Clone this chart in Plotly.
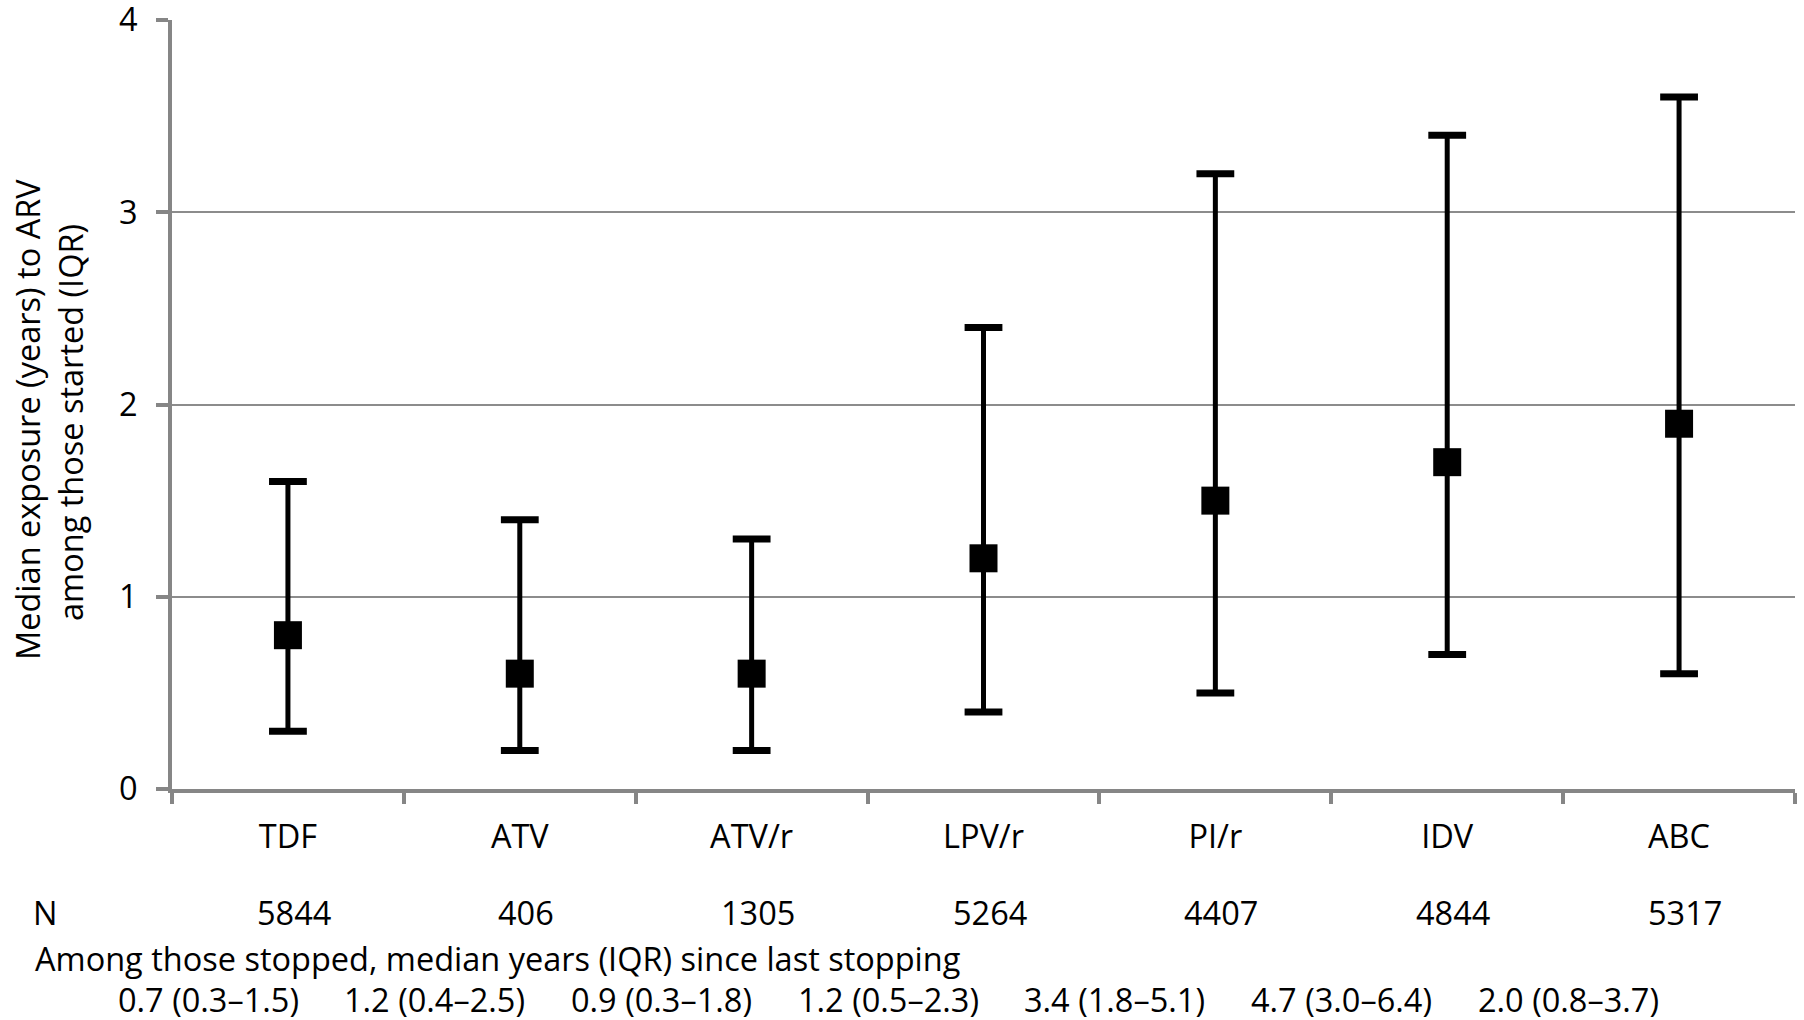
import plotly.graph_objects as go

# ---- data ----
drugs = ["TDF", "ATV", "ATV/r", "LPV/r", "PI/r", "IDV", "ABC"]
median_years = [0.8, 0.6, 0.6, 1.2, 1.5, 1.7, 1.9]
q1_years = [0.3, 0.2, 0.2, 0.4, 0.5, 0.7, 0.6]
q3_years = [1.6, 1.4, 1.3, 2.4, 3.2, 3.4, 3.6]
n_counts = ["5844", "406", "1305", "5264", "4407", "4844", "5317"]
stopped_text = ["0.7 (0.3\u20131.5)", "1.2 (0.4\u20132.5)", "0.9 (0.3\u20131.8)",
                "1.2 (0.5\u20132.3)", "3.4 (1.8\u20135.1)", "4.7 (3.0\u20136.4)",
                "2.0 (0.8\u20133.7)"]
y_ticks = [0, 1, 2, 3, 4]

W, H = 1804, 1020
L, R, T, B = 172, 9, 20, 231
PW, PH = W - L - R, H - T - B

def px_x(x):
    return (x - L) / PW

def px_y(y):
    return (H - B - y) / PH

FONT = "Open Sans"
FS = 32.5

err_plus = [q3 - m for q3, m in zip(q3_years, median_years)]
err_minus = [m - q1 for m, q1 in zip(median_years, q1_years)]

fig = go.Figure()
# whiskers (no caps) + median squares
fig.add_trace(go.Scatter(
    x=drugs, y=median_years, mode="markers",
    marker=dict(symbol="square", size=28, color="black"),
    error_y=dict(type="data", symmetric=False, array=err_plus, arrayminus=err_minus,
                 color="black", thickness=5, width=0),
    showlegend=False, hoverinfo="skip", cliponaxis=False,
))
# caps at Q1 and Q3
fig.add_trace(go.Scatter(
    x=drugs + drugs, y=q1_years + q3_years, mode="markers",
    marker=dict(symbol="line-ew", size=27, color="black",
                line=dict(color="black", width=7)),
    showlegend=False, hoverinfo="skip", cliponaxis=False,
))

annotations = []
# y-axis title (two lines)
annotations.append(dict(text="Median exposure (years) to ARV", xref="paper", yref="paper",
                        x=px_x(27), y=px_y(420), textangle=-90, showarrow=False,
                        xanchor="center", yanchor="middle", font=dict(size=FS)))
annotations.append(dict(text="among those started (IQR)", xref="paper", yref="paper",
                        x=px_x(70), y=px_y(423), textangle=-90, showarrow=False,
                        xanchor="center", yanchor="middle", font=dict(size=FS)))
# N row
annotations.append(dict(text="N", xref="paper", yref="paper", x=px_x(31), y=px_y(912),
                        showarrow=False, xanchor="left", yanchor="middle", font=dict(size=FS)))
for d, n in zip(drugs, n_counts):
    annotations.append(dict(text=n, xref="x", yref="paper", x=d, y=px_y(912), xshift=6,
                            showarrow=False, xanchor="center", yanchor="middle",
                            font=dict(size=FS)))
annotations.append(dict(text="Among those stopped, median years (IQR) since last stopping",
                        xref="paper", yref="paper", x=px_x(33), y=px_y(958),
                        showarrow=False, xanchor="left", yanchor="middle", font=dict(size=FS)))
start_c, pitch = 208, 226.7
for i, s in enumerate(stopped_text):
    annotations.append(dict(text=s, xref="paper", yref="paper", x=px_x(start_c + i * pitch),
                            y=px_y(999), showarrow=False, xanchor="center", yanchor="middle",
                            font=dict(size=FS)))

fig.update_layout(
    width=W, height=H,
    margin=dict(l=L, r=R, t=T, b=B, autoexpand=False),
    paper_bgcolor="white", plot_bgcolor="white",
    font=dict(family=FONT, size=FS, color="black"),
    annotations=annotations,
    xaxis=dict(
        type="category", range=[-0.5, 6.5], tickson="boundaries",
        ticks="outside", ticklen=11, tickwidth=4, tickcolor="#868686",
        showline=True, linecolor="#868686", linewidth=4,
        showgrid=False, zeroline=False, automargin=False,
        tickfont=dict(size=FS, color="black"), ticklabelstandoff=16,
    ),
    yaxis=dict(
        range=[0, 4], tickvals=y_ticks, ticktext=[str(v) for v in y_ticks],
        ticks="outside", ticklen=12, tickwidth=4, tickcolor="#868686",
        showline=True, linecolor="#868686", linewidth=4,
        showgrid=True, gridcolor="#8c8c8c", gridwidth=1.5, zeroline=False,
        automargin=False, ticklabeloverflow="allow",
        tickfont=dict(size=FS, color="black"), ticklabelstandoff=12,
    ),
)

fig.write_html(
    "out.html",
    config={"displayModeBar": False},
    post_script="document.body.style.margin='0';document.body.style.overflow='hidden';",
)
